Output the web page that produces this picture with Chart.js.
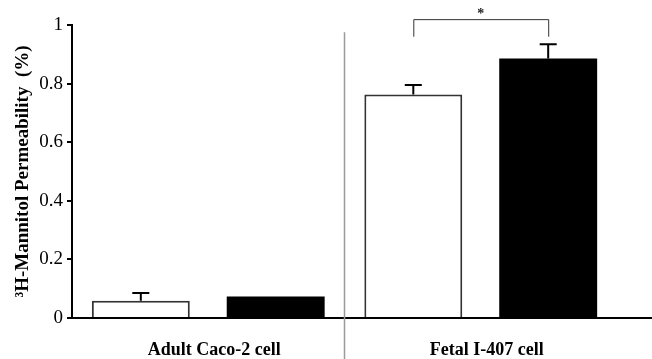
<!DOCTYPE html>
<html>
<head>
<meta charset="utf-8">
<script src="https://cdn.jsdelivr.net/npm/chart.js@4/dist/chart.umd.min.js"></script>
<style>
  html, body { margin: 0; padding: 0; background: #fff; }
  #wrap { width: 652px; height: 359px; position: relative; }
</style>
</head>
<body>
<div id="wrap"><canvas id="permChart"></canvas></div>
<script>
// values
var categories = ['Adult Caco-2 cell', 'Fetal I-407 cell'];
var controlValues = [0.059, 0.763];
var treatedValues = [0.073, 0.886];
var controlErr = [0.026, 0.032];
var treatedErr = [0, 0.048];
var yTicks = [0, 0.2, 0.4, 0.6, 0.8, 1];

var serif = "'Liberation Serif', 'Times New Roman', serif";

// error bars, separator, extended axis line, significance bracket
var extras = {
    id: 'extras',
    afterDatasetsDraw: function(chart) {
        var ctx = chart.ctx;
        var x = chart.scales.x, y = chart.scales.y;
        var area = chart.chartArea;
        var errs = [controlErr, treatedErr];

        ctx.save();
        // error bars (upper only)
        ctx.strokeStyle = '#000';
        ctx.lineWidth = 2;
        errs.forEach(function(errArr, di) {
            var meta = chart.getDatasetMeta(di);
            meta.data.forEach(function(bar, i) {
                if (!errArr[i]) return;
                var v = chart.data.datasets[di].data[i];
                var yTop = y.getPixelForValue(v + errArr[i]);
                ctx.beginPath();
                ctx.moveTo(bar.x, bar.y);
                ctx.lineTo(bar.x, yTop);
                ctx.moveTo(bar.x - 8.5, yTop);
                ctx.lineTo(bar.x + 8.5, yTop);
                ctx.stroke();
            });
        });

        // x axis line running to the right edge
        ctx.beginPath();
        ctx.moveTo(area.right - 1, area.bottom);
        ctx.lineTo(chart.width, area.bottom);
        ctx.stroke();

        // grey separator between the two cell lines
        var sepX = (x.getPixelForValue(0) + x.getPixelForValue(1)) / 2;
        ctx.strokeStyle = '#9a9a9a';
        ctx.lineWidth = 1.5;
        ctx.beginPath();
        ctx.moveTo(sepX, y.getPixelForValue(0.975));
        ctx.lineTo(sepX, chart.height);
        ctx.stroke();

        // significance bracket over fetal bars
        var b0 = chart.getDatasetMeta(0).data[1];
        var b1 = chart.getDatasetMeta(1).data[1];
        var yb = y.getPixelForValue(1.02);
        var yl = y.getPixelForValue(0.96);
        ctx.strokeStyle = '#333';
        ctx.lineWidth = 1;
        ctx.beginPath();
        ctx.moveTo(b0.x + 0.5, yl);
        ctx.lineTo(b0.x + 0.5, yb + 0.5);
        ctx.lineTo(b1.x + 0.5, yb + 0.5);
        ctx.lineTo(b1.x + 0.5, yl);
        ctx.stroke();
        ctx.fillStyle = '#222';
        ctx.font = 'bold 14px ' + serif;
        ctx.textAlign = 'center';
        ctx.textBaseline = 'middle';
        ctx.fillText('*', (b0.x + b1.x) / 2, yb - 5);
        ctx.restore();
    }
};

var config = {
    type: 'bar',
    data: {
        labels: categories,
        datasets: [{
            label: 'Control',
            data: controlValues,
            backgroundColor: '#fff',
            borderColor: '#333',
            borderWidth: 2
        }, {
            label: 'Treated',
            data: treatedValues,
            backgroundColor: '#000',
            borderWidth: 0
        }]
    },
    options: {
        responsive: true,
        maintainAspectRatio: false,
        animation: false,
        categoryPercentage: 0.99,
        barPercentage: 0.726,
        layout: { padding: { top: 25, right: 35, left: 0, bottom: 0 } },
        plugins: {
            legend: { display: false },
            tooltip: { enabled: false }
        },
        scales: {
            x: {
                grid: { display: false },
                border: { color: '#000', width: 2 },
                ticks: {
                    color: '#000',
                    padding: 14,
                    labelOffset: 6,
                    font: { family: serif, size: 18, weight: 'bold' }
                },
                afterFit: function(scale) { scale.height = 41; }
            },
            y: {
                min: 0,
                max: 1,
                afterBuildTicks: function(scale) {
                    scale.ticks = yTicks.map(function(v) { return { value: v }; });
                },
                grid: { drawOnChartArea: false, drawTicks: true, tickLength: 5, color: '#000', lineWidth: 2 },
                border: { color: '#000', width: 2 },
                ticks: {
                    color: '#000',
                    padding: 4,
                    font: { family: serif, size: 19 },
                    callback: function(v) { return String(Math.round(v * 10) / 10); }
                },
                title: {
                    display: true,
                    text: '\u00B3H-Mannitol Permeability  (%)',
                    color: '#000',
                    padding: { top: 12, bottom: 0 },
                    font: { family: serif, size: 19, weight: 'bold' }
                },
                afterFit: function(scale) { scale.width = 72; }
            }
        }
    },
    plugins: [extras]
};

window.onload = function() {
    var ctx = document.getElementById('permChart').getContext('2d');
    window.permChart = new Chart(ctx, config);
};
</script>
</body>
</html>
